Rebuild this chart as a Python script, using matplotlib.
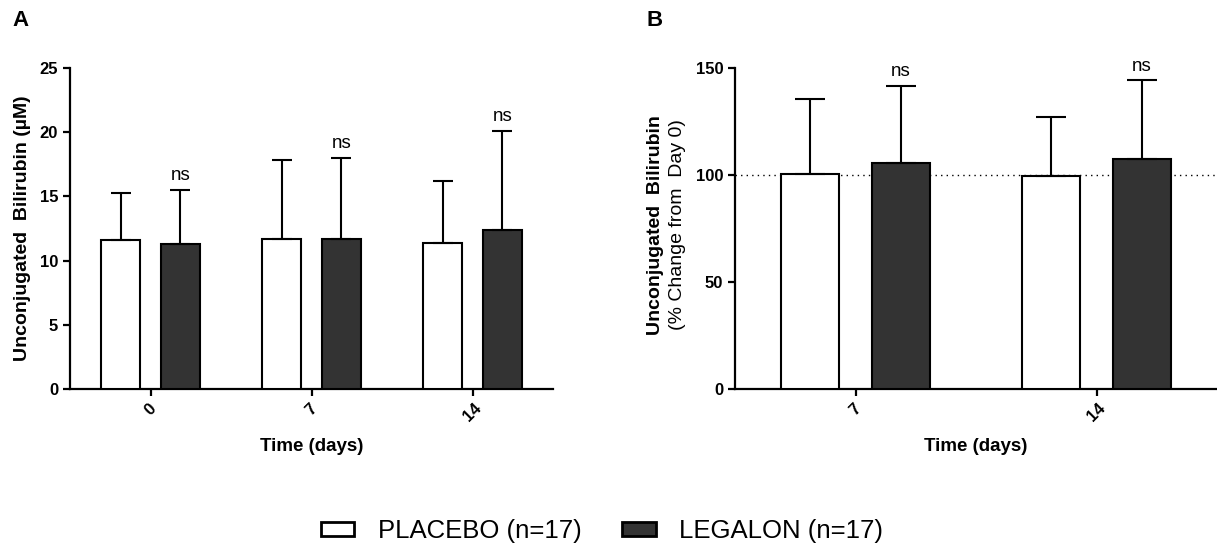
import matplotlib.pyplot as plt
import numpy as np
from matplotlib.patches import Patch

plt.rcParams["font.family"] = ["Liberation Sans", "DejaVu Sans"]

# Panel A: absolute values (uM)
days_a = ["0", "7", "14"]
placebo_a = [11.6, 11.7, 11.4]
placebo_a_sd = [3.7, 6.1, 4.8]
legalon_a = [11.3, 11.7, 12.4]
legalon_a_sd = [4.2, 6.3, 7.7]

# Panel B: % change from day 0
days_b = ["7", "14"]
placebo_b = [100.5, 99.5]
placebo_b_sd = [35.1, 27.5]
legalon_b = [105.6, 107.6]
legalon_b_sd = [36.1, 36.6]

ns_labels_a = ["ns", "ns", "ns"]
ns_labels_b = ["ns", "ns"]

W, H = 1217, 551
fig = plt.figure(figsize=(W / 100, H / 100), dpi=100)


def px_axes(left, right, top, bottom):
    return fig.add_axes([left / W, 1 - bottom / H, (right - left) / W, (bottom - top) / H])


def style(ax):
    for s in ("top", "right"):
        ax.spines[s].set_visible(False)
    for s in ("left", "bottom"):
        ax.spines[s].set_linewidth(1.6)
    ax.tick_params(width=1.6, length=5, labelsize=12)
    for lab in ax.get_yticklabels():
        lab.set_fontweight("bold")
    for lab in ax.get_xticklabels():
        lab.set_fontweight("bold")


def panel(ax, labels, plc, plc_sd, leg, leg_sd, ns, width, offset, capsize, ns_off):
    x = np.arange(len(labels))
    ax.bar(x - offset, plc, width, color="white", edgecolor="black", linewidth=1.5, zorder=3)
    ax.bar(x + offset, leg, width, color="#333333", edgecolor="black", linewidth=1.5, zorder=3)
    ax.errorbar(x - offset, plc, yerr=[np.zeros(len(plc)), plc_sd], fmt="none",
                ecolor="black", elinewidth=1.5, capsize=capsize, capthick=1.5, zorder=4)
    ax.errorbar(x + offset, leg, yerr=[np.zeros(len(leg)), leg_sd], fmt="none",
                ecolor="black", elinewidth=1.5, capsize=capsize, capthick=1.5, zorder=4)
    for xi, v, s, t in zip(x, leg, leg_sd, ns):
        ax.annotate(t, (xi + offset, v + s), xytext=(0, ns_off), textcoords="offset points",
                    ha="center", va="bottom", fontsize=13.5)
    ax.set_xticks(x)
    ax.set_xticklabels(labels, rotation=45, ha="center")
    ax.set_xlim(-0.5, len(labels) - 0.5)
    ax.set_xlabel("Time (days)", fontsize=13.5, fontweight="bold", labelpad=10)


# Panel A
ax1 = px_axes(70, 553, 68, 389)
panel(ax1, days_a, placebo_a, placebo_a_sd, legalon_a, legalon_a_sd, ns_labels_a,
      0.242, 0.186, 7.2, 4)
ax1.set_ylim(0, 25)
ax1.set_yticks([0, 5, 10, 15, 20, 25])
ax1.set_ylabel("Unconjugated  Bilirubin (\u00b5M)", fontsize=14, fontweight="bold", labelpad=6)
style(ax1)

# Panel B
ax2 = px_axes(735, 1217, 68, 389)
ax2.axhline(100, color="black", linestyle=(0, (1, 3)), linewidth=1.0, zorder=2)
panel(ax2, days_b, placebo_b, placebo_b_sd, legalon_b, legalon_b_sd, ns_labels_b,
      0.24, 0.189, 10.8, 4)
ax2.set_ylim(0, 150)
ax2.set_yticks([0, 50, 100, 150])
style(ax2)
fig.text(655 / W, 1 - 225 / H, "Unconjugated  Bilirubin", rotation=90, ha="center", va="center",
         fontsize=14, fontweight="bold")
fig.text(678 / W, 1 - 225 / H, "(% Change from  Day 0)", rotation=90, ha="center", va="center",
         fontsize=14)

# Panel letters
fig.text(12 / W, 1 - 20 / H, "A", fontsize=16, fontweight="bold", va="center")
fig.text(646 / W, 1 - 20 / H, "B", fontsize=16, fontweight="bold", va="center")

handles = [Patch(facecolor="white", edgecolor="black", linewidth=2.0),
           Patch(facecolor="#333333", edgecolor="black", linewidth=2.0)]
fig.legend(handles, ["PLACEBO (n=17)", "LEGALON (n=17)"], loc="center",
           bbox_to_anchor=(602 / W, 1 - 531 / H), ncol=2, frameon=False, fontsize=18.5,
           handlelength=1.3, handleheight=0.5, handletextpad=0.9, columnspacing=1.6)

fig.savefig("out.png", dpi=100)
